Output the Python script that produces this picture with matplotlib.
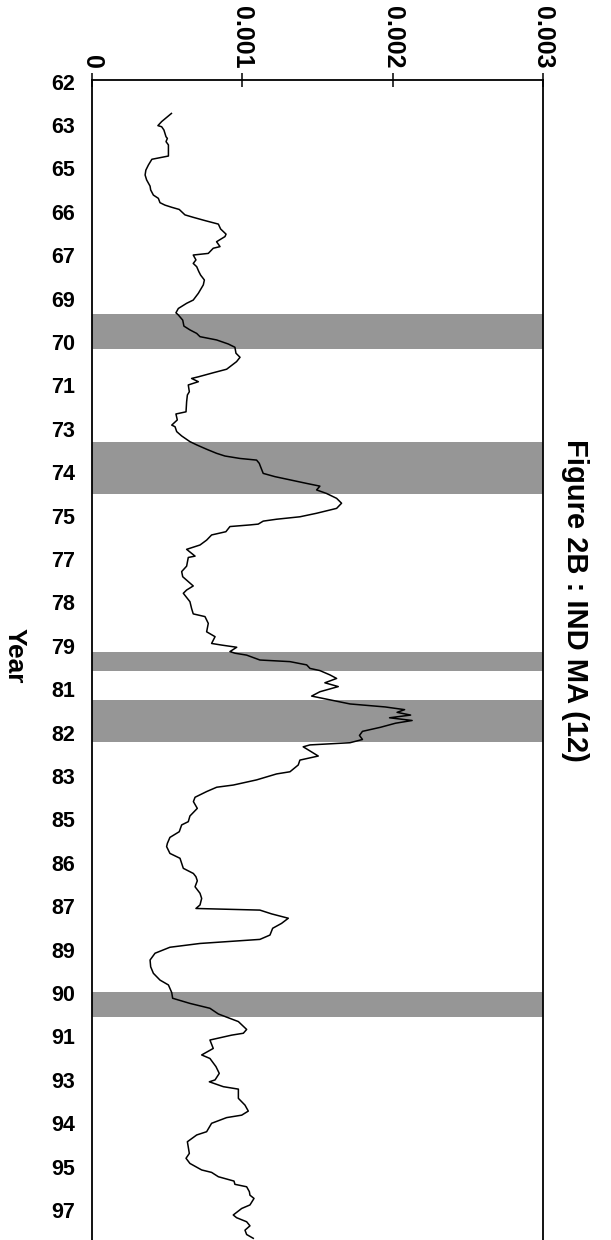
import matplotlib
matplotlib.use("Agg")
import matplotlib.pyplot as plt

# ---- data -------------------------------------------------------------
# month index from the first category (Excel category axis, monthly data)
t = [11.7, 14.7, 16.2, 16.6, 17.8, 20.3, 20.9, 22.1, 23.3, 27.4, 28.6, 30.7, 32.6, 34.4,
     36.2, 38.5, 39.9, 41.8, 43.0, 44.6, 45.5, 46.3, 47.1, 49.1, 50.0, 51.2, 52.5, 54.3,
     56.2, 57.1, 59.0, 60.8, 61.4, 63.3, 63.9, 65.7, 67.0, 68.2, 70.0, 71.3, 73.1, 74.9,
     78.0, 80.5, 81.7, 83.6, 85.2, 86.0, 87.9, 90.1, 91.5, 92.8, 94.0, 95.2, 96.7, 97.9,
     100.1, 101.6, 103.2, 106.0, 107.3, 108.8, 109.4, 110.6, 111.8, 114.3, 115.5, 118.0,
     121.7, 122.5, 124.7, 126.6, 127.2, 129.0, 130.6, 132.7, 133.9, 135.5, 137.0, 138.0,
     138.9, 139.5, 140.7, 141.3, 144.4, 145.6, 146.8, 148.1, 149.1, 150.5, 151.8, 153.6,
     155.4, 157.3, 159.1, 160.4, 161.3, 162.0, 163.1, 163.4, 164.0, 165.9, 167.1, 169.0,
     170.8, 172.4, 174.9, 175.4, 178.6, 180.6, 182.5, 185.9, 187.4, 188.6, 191.7, 194.2,
     196.2, 197.2, 199.7, 202.8, 204.6, 207.1, 207.7, 208.5, 210.1, 210.7, 211.4, 213.2,
     213.8, 215.0, 216.3, 217.1, 218.7, 220.0, 221.6, 223.0, 224.9, 226.5, 227.9, 229.4,
     230.5, 231.5, 232.5, 233.5, 234.5, 235.5, 236.5, 238.0, 239.5, 241.0, 242.5, 243.7,
     244.5, 245.2, 248.6, 250.1, 251.9, 254.4, 255.2, 257.4, 259.3, 260.1, 261.7, 263.8,
     265.4, 267.9, 270.7, 272.8, 274.0, 276.5, 278.6, 280.8, 282.0, 284.5, 286.3, 290.0,
     291.9, 293.1, 294.6, 296.8, 299.2, 301.1, 303.5, 304.8, 305.4, 306.8, 308.4, 310.3,
     312.1, 314.6, 316.2, 317.7, 319.1, 321.3, 323.8, 326.3, 328.7, 331.2, 333.0, 335.8,
     337.9, 339.8, 341.6, 343.7, 346.5, 349.4, 350.8, 351.5, 353.3, 356.4, 358.8, 360.1,
     363.1, 365.6, 368.0, 368.7, 370.5, 371.4, 374.8, 377.3, 379.5, 381.0, 381.9, 384.0,
     387.1, 388.3, 390.8, 395.1, 396.9, 398.8, 401.2, 402.1, 403.7, 405.3, 406.5, 407.4,
     409.2, 410.5, 411.7, 414.1, 415.4, 417.8, 418.8, 420.3, 421.8, 423.4, 425.0, 426.4]

ind_ma = [0.530, 0.465, 0.440, 0.465, 0.480, 0.494, 0.503, 0.494, 0.510, 0.510, 0.400, 0.377,
          0.360, 0.355, 0.365, 0.388, 0.392, 0.410, 0.443, 0.454, 0.487, 0.532, 0.582, 0.620,
          0.675, 0.753, 0.842, 0.857, 0.893, 0.886, 0.830, 0.853, 0.808, 0.775, 0.675, 0.693,
          0.675, 0.698, 0.712, 0.724, 0.749, 0.742, 0.709, 0.675, 0.631, 0.576, 0.560, 0.576,
          0.605, 0.613, 0.653, 0.698, 0.720, 0.830, 0.908, 0.952, 0.959, 0.986, 0.963, 0.897,
          0.808, 0.709, 0.664, 0.709, 0.642, 0.649, 0.636, 0.631, 0.627, 0.560, 0.569, 0.532,
          0.554, 0.565, 0.598, 0.653, 0.698, 0.764, 0.830, 0.886, 0.986, 1.096, 1.114, 1.118,
          1.140, 1.218, 1.318, 1.429, 1.517, 1.495, 1.561, 1.628, 1.661, 1.628, 1.495, 1.384,
          1.229, 1.140, 1.107, 1.052, 0.919, 0.892, 0.797, 0.764, 0.720, 0.631, 0.687, 0.642,
          0.631, 0.598, 0.605, 0.675, 0.631, 0.609, 0.653, 0.664, 0.675, 0.753, 0.775, 0.764,
          0.820, 0.797, 0.864, 0.964, 0.919, 0.953, 1.030, 1.118, 1.318, 1.429, 1.451, 1.517,
          1.584, 1.628, 1.550, 1.639, 1.517, 1.462, 1.584, 1.717, 1.950, 2.080, 2.030, 2.120,
          1.980, 2.130, 2.020, 1.920, 1.800, 1.780, 1.800, 1.717, 1.451, 1.406, 1.506, 1.384,
          1.373, 1.318, 1.229, 1.096, 0.941, 0.831, 0.764, 0.687, 0.676, 0.702, 0.653, 0.642,
          0.598, 0.582, 0.520, 0.503, 0.498, 0.520, 0.587, 0.609, 0.676, 0.693, 0.702, 0.687,
          0.720, 0.731, 0.720, 0.693, 1.118, 1.196, 1.307, 1.262, 1.203, 1.185, 1.118, 0.720,
          0.520, 0.421, 0.388, 0.392, 0.410, 0.454, 0.510, 0.532, 0.538, 0.653, 0.786, 0.842,
          0.975, 1.030, 1.008, 0.930, 0.786, 0.808, 0.731, 0.786, 0.826, 0.848, 0.820, 0.782,
          0.875, 0.975, 0.975, 1.019, 1.041, 0.997, 0.897, 0.797, 0.764, 0.698, 0.636, 0.649,
          0.627, 0.653, 0.731, 0.797, 0.842, 0.946, 0.952, 1.030, 1.048, 1.052, 1.079, 1.052,
          0.997, 0.941, 0.963, 1.030, 1.052, 1.019, 1.030, 1.074]

scale = 0.001  # values above are in units of 0.001

year_labels = ["62", "63", "65", "66", "67", "69", "70", "71", "73", "74", "75", "77", "78",
               "79", "81", "82", "83", "85", "86", "87", "89", "90", "91", "93", "94", "95", "97"]
label_step = 16  # months between category labels

# recession bands (month index start, end)
bands = [(85.6, 98.4), (132.9, 152.0), (210.4, 217.1), (227.9, 243.3), (335.7, 344.9)]

value_ticks = [0, 0.001, 0.002, 0.003]
value_tick_labels = ["0", "0.001", "0.002", "0.003"]

# ---- figure ----------------------------------------------------------
W, H = 611, 1240
fig = plt.figure(figsize=(W / 100, H / 100), dpi=100)
left_px, right_px, top_px, bottom_px = 91.7, 543.0, 80.0, 1243.0
ax = fig.add_axes([left_px / W, 1 - bottom_px / H, (right_px - left_px) / W,
                   (bottom_px - top_px) / H])

font = "Liberation Sans"

for a, b in bands:
    ax.axhspan(a, b, color="#969696", lw=0, zorder=1)

ax.plot([v * scale for v in ind_ma], t, color="black", lw=1.1, zorder=3)

ax.set_xlim(0, 0.003)
px_per_month = 2.7125
ax.set_ylim((bottom_px - 81.7) / px_per_month, (top_px - 81.7) / px_per_month)

# top value axis
ax.xaxis.tick_top()
ax.set_xticks(value_ticks)
ax.set_xticklabels(value_tick_labels, rotation=270, fontsize=18, fontweight="bold",
                   family=font, va="bottom", ha="center")
ax.tick_params(axis="x", direction="inout", length=10, width=1.1, pad=3, color="black")

# category axis (years) on the left
ax.set_yticks([i * label_step for i in range(len(year_labels))])
ax.set_yticklabels(year_labels, fontsize=15.5, fontweight="bold", family=font)
ax.tick_params(axis="y", length=0, pad=12)

for s in ax.spines.values():
    s.set_linewidth(1.3)
    s.set_color("black")

fig.text(15 / W, 1 - 656 / H, "Year", rotation=270, fontsize=19, fontweight="bold",
         family=font, ha="center", va="center")
fig.text(575 / W, 1 - 600 / H, "Figure 2B : IND MA (12)", rotation=270, fontsize=21,
         fontweight="bold", family=font, ha="center", va="center")

fig.savefig("out.png", dpi=100)
